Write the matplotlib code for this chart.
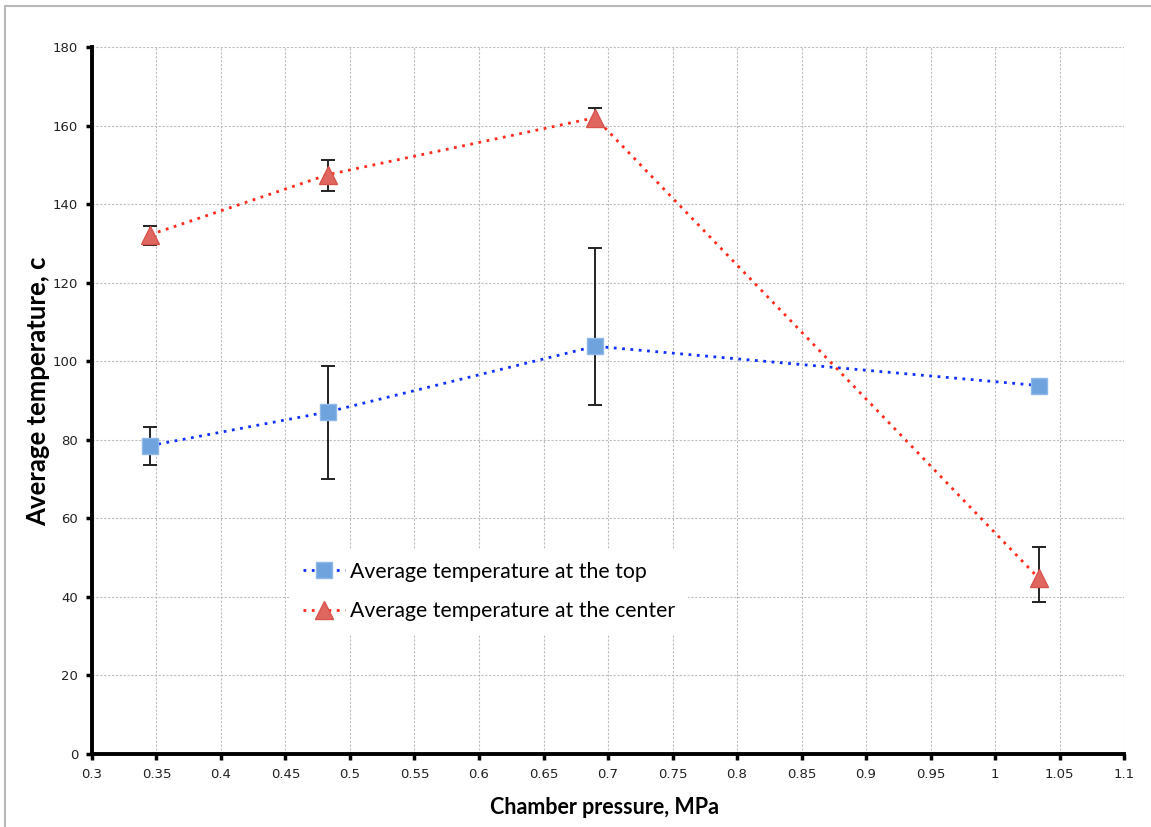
import matplotlib
matplotlib.use("Agg")
import matplotlib.pyplot as plt
import matplotlib.patches as mpatches
import numpy as np

# ── Data ───────────────────────────────────────────────────────────────────
pressure = [0.345, 0.483, 0.690, 1.034]

top_temp = [78.5, 87.1, 103.8, 93.8]
top_err_low = [4.9, 17.2, 14.9]     # first three points carry error bars
top_err_high = [4.8, 11.6, 25.1]

center_temp = [132.2, 147.5, 162.0, 44.7]
center_err_low = [2.5, 4.2, 1.9, 6.0]
center_err_high = [2.3, 3.7, 2.5, 7.9]

xticks = np.arange(0.3, 1.1001, 0.05)
yticks = np.arange(0, 181, 20)

LABEL_FONT = "Lato"
TICK_FONT = "DejaVu Sans"

fig = plt.figure(figsize=(11.51, 8.27), dpi=100, facecolor="white")
ax = fig.add_axes([0.0799, 0.0883, 0.8967, 0.8549])

# light frame around the chart area
fig.patches.append(mpatches.Rectangle((5 / 1151, -0.1), 1.2, 1 - 6 / 827 + 0.1,
                                      transform=fig.transFigure, fill=False,
                                      edgecolor="#b8b8b8", linewidth=1.5))

# error bars (drawn under the markers)
ax.errorbar(pressure[:3], top_temp[:3], yerr=[top_err_low, top_err_high],
            fmt="none", ecolor="#222222", elinewidth=1.4, capsize=5,
            capthick=1.4, zorder=3)
ax.errorbar(pressure, center_temp, yerr=[center_err_low, center_err_high],
            fmt="none", ecolor="#222222", elinewidth=1.4, capsize=5,
            capthick=1.4, zorder=3)

ax.plot(pressure, top_temp, linestyle=(0, (1, 2.0)), linewidth=2.0,
        color="#1030ff", marker="s", markersize=11,
        markerfacecolor="#6fa3de", markeredgecolor="#8db8e8",
        markeredgewidth=1.0, zorder=4,
        label="Average temperature at the top")
ax.plot(pressure, center_temp, linestyle=(0, (1, 2.0)), linewidth=2.0,
        color="#ff2a1a", marker="^", markersize=13,
        markerfacecolor="#e0675f", markeredgecolor="#d9534c",
        markeredgewidth=1.0, zorder=4,
        label="Average temperature at the center")

ax.set_xlim(0.3, 1.1)
ax.set_ylim(0, 180)
ax.set_xticks(xticks)
ax.set_xticklabels([f"{v:g}" for v in np.round(xticks, 2)])
ax.set_yticks(yticks)

ax.grid(True, color="#bdbdbd", linestyle=(0, (2, 1.5)), linewidth=0.8)
ax.set_axisbelow(True)

for side in ("top", "right"):
    ax.spines[side].set_visible(False)
for side in ("left", "bottom"):
    ax.spines[side].set_linewidth(2.8)
    ax.spines[side].set_color("black")

ax.tick_params(direction="out", length=4, width=2.5, colors="black",
               labelsize=9.5, pad=6)
for lab in ax.get_xticklabels() + ax.get_yticklabels():
    lab.set_fontfamily(TICK_FONT)
    lab.set_color("#222222")

ax.set_xlabel("Chamber pressure, MPa", fontsize=15.5, fontweight="bold",
              fontfamily=LABEL_FONT)
ax.set_ylabel("Average temperature, c", fontsize=18.5, fontweight="bold",
              fontfamily=LABEL_FONT)
ax.xaxis.set_label_coords(0.497, -0.076)
ax.xaxis.label.set_va("center")
ax.yaxis.set_label_coords(-0.052, 0.513)
ax.yaxis.label.set_va("center")

leg = ax.legend(loc="upper left", bbox_to_anchor=(0.1815, 0.305),
                frameon=True, framealpha=1, facecolor="white",
                edgecolor="none", fancybox=False,
                prop={"family": LABEL_FONT, "size": 15.3},
                handlelength=2.0, handletextpad=0.25, labelspacing=0.92,
                borderpad=0.6)
leg.set_zorder(5)

plt.savefig("out.png", dpi=100, facecolor="white")
